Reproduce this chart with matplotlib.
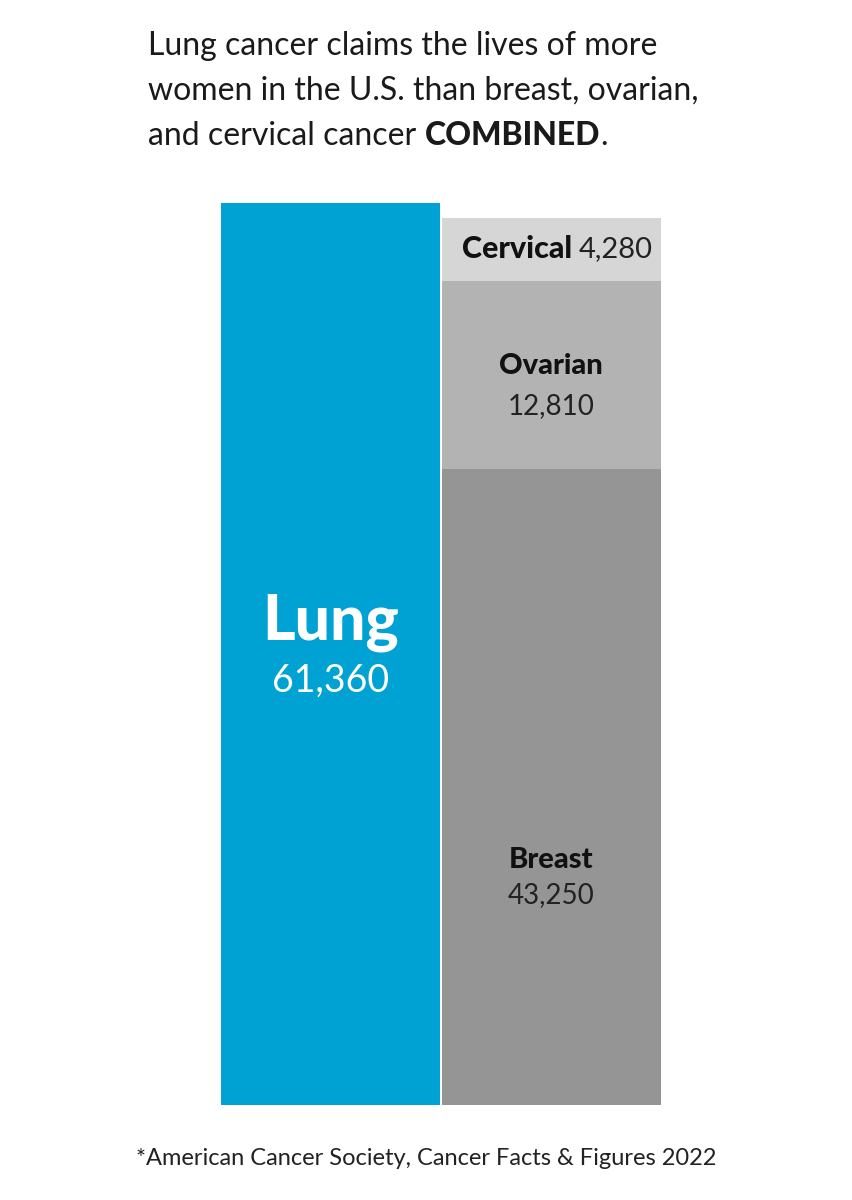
import matplotlib
matplotlib.use('Agg')
import matplotlib.pyplot as plt
from matplotlib.transforms import offset_copy

plt.rcParams['font.family'] = ['Lato', 'DejaVu Sans']

# data
lung_label = 'Lung'
lung_value = 61360
stack_labels = ['Breast', 'Ovarian', 'Cervical']
stack_values = [43250, 12810, 4280]
stack_colors = ['#959595', '#b3b3b3', '#d6d6d6']
lung_color = '#00a2d4'

title_lines = ['Lung cancer claims the lives of more',
               'women in the U.S. than breast, ovarian,',
               'and cervical cancer ']
source = '*American Cancer Society, Cancer Facts & Figures 2022'

W, H = 853, 1200
fig = plt.figure(figsize=(W / 100, H / 100), dpi=100)
ax = fig.add_axes([221 / W, 95 / H, 440 / W, 902 / H])
ax.set_xlim(0, 1.995)
ax.set_ylim(0, lung_value)
ax.axis('off')

ax.bar(0, lung_value, width=0.995, align='edge', color=lung_color)
bottom = 0
bottoms = []
for v, c in zip(stack_values, stack_colors):
    ax.bar(1, v, width=0.995, bottom=bottom, align='edge', color=c)
    bottoms.append(bottom)
    bottom += v

BW = 900  # heavy weight for labels

# labels
ax.text(0.4975, lung_value * 0.535, lung_label, color='white', fontsize=45,
        fontweight=BW, ha='center', va='center')
ax.text(0.4975, lung_value * 0.47, f'{lung_value:,}', color='white', fontsize=27,
        ha='center', va='center')

cx = 1 + 0.4975
# breast
b, v = bottoms[0], stack_values[0]
ax.text(cx, b + v * 0.385, stack_labels[0], fontsize=21, fontweight=BW,
        color='#111111', ha='center', va='center')
ax.text(cx, b + v * 0.33, f'{v:,}', fontsize=20, color='#222222',
        ha='center', va='center')
# ovarian
b, v = bottoms[1], stack_values[1]
ax.text(cx, b + v * 0.55, stack_labels[1], fontsize=21, fontweight=BW,
        color='#111111', ha='center', va='center')
ax.text(cx, b + v * 0.335, f'{v:,}', fontsize=20, color='#222222',
        ha='center', va='center')
# cervical: bold name + regular value, centred together
b, v = bottoms[2], stack_values[2]
t1 = ax.text(cx, b + v * 0.5, stack_labels[2] + ' ', fontsize=22, fontweight=BW,
             color='#111111', ha='left', va='center')
t2 = ax.text(cx, b + v * 0.5, f'{v:,}', fontsize=21, color='#222222',
             ha='left', va='center')
fig.canvas.draw()
r = fig.canvas.get_renderer()
w1 = t1.get_window_extent(r).width
w2 = t2.get_window_extent(r).width
tot = w1 + w2
shift = 6
t1.set_transform(offset_copy(ax.transData, fig=fig, x=-tot / 2 + shift, y=0, units='dots'))
t2.set_transform(offset_copy(ax.transData, fig=fig, x=-tot / 2 + w1 + shift, y=0, units='dots'))

# title
ys = [1 - 55 / H, 1 - 100 / H, 1 - 145 / H]
for line, y in zip(title_lines, ys):
    t = fig.text(148 / W, y, line, fontsize=23, color='#1a1a1a', ha='left', va='baseline')
fig.canvas.draw()
bb = t.get_window_extent(r)
tb = fig.text(bb.x1 / W, ys[2], 'COMBINED', fontsize=23, fontweight=BW, color='#1a1a1a',
              ha='left', va='baseline')
fig.canvas.draw()
bb2 = tb.get_window_extent(r)
fig.text(bb2.x1 / W, ys[2], '.', fontsize=23, color='#1a1a1a', ha='left', va='baseline')

fig.text(0.5, 1 - 1165 / H, source, fontsize=17, color='#222222', ha='center', va='baseline')

fig.savefig('out.png', dpi=100)
